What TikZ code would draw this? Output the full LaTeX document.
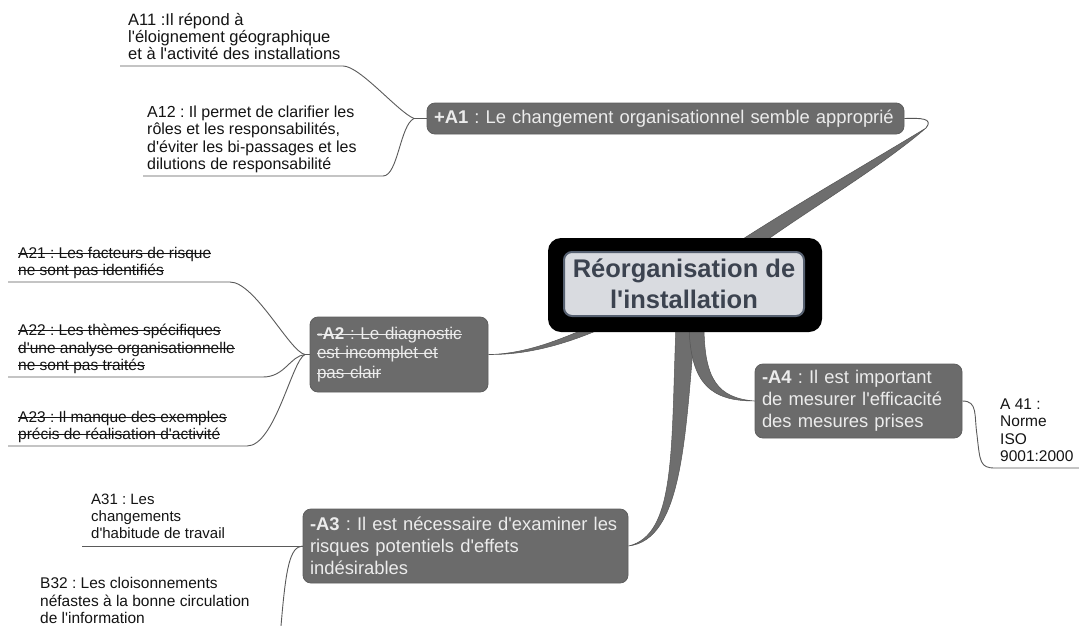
\documentclass[tikz,border=0pt]{standalone}
\usepackage{fontspec}
\setmainfont{Liberation Sans}[Ligatures=TeXOff]
\usetikzlibrary{calc,backgrounds}

% struck-through text
\newlength\strklen
\newcommand\strk[1]{\leavevmode\settowidth{\strklen}{#1}\rlap{\rule[0.27em]{\strklen}{1.1pt}}#1}

\definecolor{branch}{HTML}{6E6E6E}
\definecolor{branchedge}{HTML}{555555}
\definecolor{topicfill}{HTML}{6B6B6B}
\definecolor{topicedge}{HTML}{5E5E5E}
\definecolor{topictext}{HTML}{ECECEC}
\definecolor{centrefill}{HTML}{D9DBE0}
\definecolor{centreedge}{HTML}{566070}
\definecolor{centretext}{HTML}{3C4350}
\definecolor{leafline}{HTML}{5A5A5A}

\tikzset{
  topic/.style={rectangle, rounded corners=8pt, fill=topicfill, draw=topicedge,
    line width=0.8pt, text=topictext, align=left, inner xsep=7pt, inner ysep=0pt,
    font=\fontsize{18.4}{22}\selectfont},
  leaf/.style={inner sep=0pt, align=left, anchor=south west,
    font=\fontsize{15.5}{17.5}\selectfont, execute at end node=\strut, text=black!92},
  twig/.style={draw=leafline, line width=0.9pt},
  band/.style={fill=branch, draw=branchedge, line width=0.5pt},
}

\begin{document}
\frenchspacing
\begin{tikzpicture}[x=1pt,y=-1pt]
\useasboundingbox (0,0) rectangle (1079,625);

% central topic
\node[fill=black, rounded corners=13pt, minimum width=274pt, minimum height=94pt, inner sep=0pt] (c) at (685,285) {};
\node[fill=centrefill, draw=centreedge, line width=2pt, rounded corners=8pt,
      minimum width=240pt, minimum height=64pt, inner sep=0pt, align=center,
      text=centretext, font=\bfseries\fontsize{25.5}{31}\selectfont] (ci) at (684,284)
      {Réorganisation de\\l'installation};

% main topics
\node[topic, text width=463pt, minimum height=31pt] (A1) at (665.5,118.5)
  {\textbf{+A1} : Le changement organisationnel semble approprié};
\node[topic, text width=164pt, minimum height=75pt, font=\fontsize{17}{19.5}\selectfont] (A2) at (399,354.5)
  {\strk{\textbf{-A2} : Le diagnostic}\\\strk{est incomplet et}\\\strk{pas clair}};
\node[topic, text width=311pt, minimum height=74pt] (A3) at (465.5,546)
  {\textbf{-A3} : Il est nécessaire d'examiner les\\risques potentiels d'effets\\indésirables};
\node[topic, text width=193pt, minimum height=74pt] (A4) at (858.5,401)
  {\textbf{-A4} : Il est important\\de mesurer l'efficacité\\des mesures prises};

% sub-topics
\node[leaf, font=\fontsize{16.5}{17}\selectfont] (a11) at (128,65) {A11 :Il répond à\\l'éloignement géographique\\et à l'activité des installations};
\node[leaf, font=\fontsize{16}{17.5}\selectfont] (a12) at (147,175) {A12 : Il permet de clarifier les\\rôles et les responsabilités,\\d'éviter les bi-passages et les\\dilutions de responsabilité};
\node[leaf] (a21) at (18,281) {\strk{A21 : Les facteurs de risque}\\\strk{ne sont pas identifiés}};
\node[leaf] (a22) at (18,376) {\strk{A22 : Les thèmes spécifiques}\\\strk{d'une analyse organisationnelle}\\\strk{ne sont pas traités}};
\node[leaf] (a23) at (18,445) {\strk{A23 : Il manque des exemples}\\\strk{précis de réalisation d'activité}};
\node[leaf, font=\fontsize{15}{17}\selectfont] (a31) at (91,544) {A31 : Les\\changements\\d'habitude de travail};
\node[leaf] (b32) at (40,629) {B32 : Les cloisonnements\\néfastes à la bonne circulation\\de l'information};
\node[leaf] (a41) at (1000,467) {A 41 :\\Norme\\ISO\\9001:2000};

% junctions and underline ends
\coordinate (j1) at (414,118.5);
\coordinate (j2) at (305,354.5);
\coordinate (t1) at (926,128);
\coordinate (u11) at (120,66);
\coordinate (u12) at (143,176);
\coordinate (u21) at (8,282);
\coordinate (u22) at (8,377);
\coordinate (u23) at (8,446);
\coordinate (u31) at (82,546);
\coordinate (u32) at (281,626);
\coordinate (u41) at (1079,468);

% thin connectors to sub-topics
\draw[twig] (A1.west) -- (j1);
\draw[twig] (j1) .. controls (398,112) and (360,66) .. (343,66) -- (u11);
\draw[twig] (j1) .. controls (400,125) and (398,176) .. (383,176) -- (u12);
\draw[twig] (A2.west) -- (j2);
\draw[twig] (j2) .. controls (290,352) and (255,282) .. (230,282) -- (u21);
\draw[twig] (j2) .. controls (290,356) and (285,377) .. (263,377) -- (u22);
\draw[twig] (j2) .. controls (292,360) and (275,446) .. (247,446) -- (u23);
\draw[twig] (A3.west) -- (u31);
\draw[twig] (A3.west) .. controls (290,547) and (286,566) .. (u32);
\draw[twig] (A4.east) .. controls (978,401) and (974,415) .. (977,435)
            .. controls (980,462) and (980,468) .. (995,468) -- (u41);
\draw[twig, draw=branchedge] (A1.east) .. controls (920,118) and (934,118) .. (t1);

% tapered branches from the central topic
\begin{pgfonlayer}{background}
\fill[white] (0,0) rectangle (1079,625);
\filldraw[band] (729,248) .. controls (790,208) and (870,162) .. (t1)
      .. controls (880,168) and (800,215) .. (756,248) -- cycle;
\filldraw[band] (A2.east) .. controls (525,354) and (560,340) .. (598,323)
      -- (603,328) .. controls (568,343) and (530,355) .. (A2.east) -- cycle;
\filldraw[band] (676,325) .. controls (671,450) and (676,535) .. (A3.east)
      .. controls (682,540) and (685,440) .. (695,325) -- cycle;
\filldraw[band] (689,325) .. controls (690,385) and (712,401) .. (A4.west)
      .. controls (718,398) and (704,380) .. (704,325) -- cycle;
\end{pgfonlayer}
\end{tikzpicture}
\end{document}
